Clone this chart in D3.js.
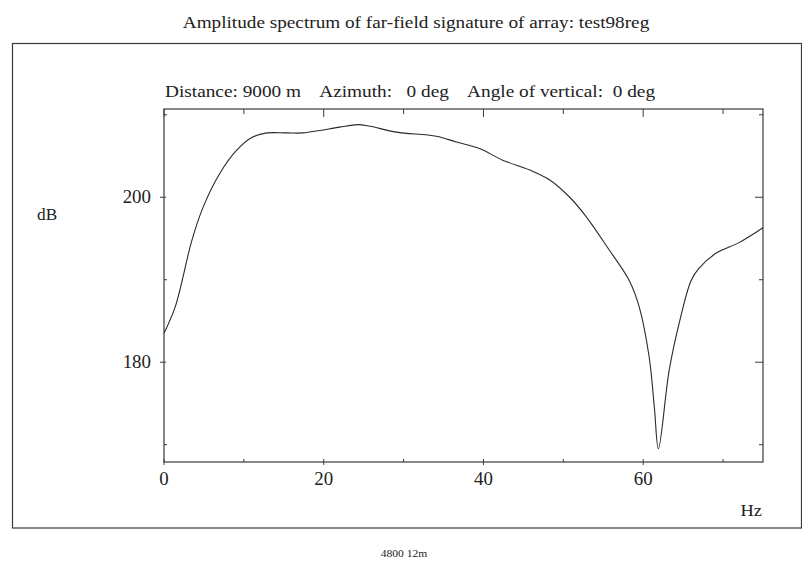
<!DOCTYPE html>
<html>
<head>
<meta charset="utf-8">
<script src="https://cdn.jsdelivr.net/npm/d3@7"></script>
<style>
  body { margin: 0; background: #fff; }
  svg text { font-family: "Liberation Serif", "DejaVu Serif", serif; fill: #222; }
</style>
</head>
<body>
<div class="chart"></div>
<script>
// spectrum: frequency (Hz) and level (dB)
const freqs = [0, 1.4, 3.5, 4.9, 7.0, 9.1, 11.1, 12.9, 15.4, 17.4, 19.5, 22, 24.3, 25.8,
  29.1, 34.1, 36.6, 39.5, 42.4, 45.8, 48.3, 50.8, 52.9, 55.75, 58.25, 59.5, 60.75, 61.4,
  61.9, 63.25, 64.5, 66, 67, 69.1, 72, 75];
const levels = [183.5, 186.7, 194.8, 198.8, 202.9, 205.7, 207.3, 207.8, 207.8, 207.8, 208.1,
  208.5, 208.8, 208.6, 207.9, 207.4, 206.7, 205.9, 204.5, 203.3, 202.1, 200, 197.6, 193.6,
  189.9, 186.7, 180.6, 174.5, 169.5, 179.0, 184.7, 189.9, 191.4, 193.2, 194.5, 196.3];

const xMajor = [0, 20, 40, 60];
const xMinor = [10, 30, 50, 70];
const yMajor = [180, 200];
const yMinor = [170, 190, 210];

const width = 802, height = 562;
const svg = d3.select('.chart').append('svg')
  .attr('width', width)
  .attr('height', height);

const frameColor = '#3a3a3a';

// the scanned text is wider than the font, so glyphs get scaled sideways by k
function label(px, py, str, size, anchor, k) {
  return svg.append('text')
    .attr('transform', `translate(${px},${py}) scale(${k},1)`)
    .attr('text-anchor', anchor)
    .attr('xml:space', 'preserve')
    .style('white-space', 'pre')
    .style('font-size', size + 'px')
    .text(str);
}

// outer frame
svg.append('rect')
  .attr('x', 12.5).attr('y', 43.5)
  .attr('width', 789).attr('height', 484.5)
  .style('fill', 'none')
  .style('stroke', frameColor)
  .style('stroke-width', 1.2);

const pLeft = 164, pRight = 763, pTop = 109, pBottom = 462;
const x = d3.scaleLinear().domain([0, 75]).range([pLeft, pRight]);
const y = d3.scaleLinear().domain([167.9, 210.7]).range([pBottom, pTop]);

// plot box
svg.append('rect')
  .attr('x', pLeft).attr('y', pTop)
  .attr('width', pRight - pLeft).attr('height', pBottom - pTop)
  .style('fill', 'none')
  .style('stroke', frameColor)
  .style('stroke-width', 1.2);

const g = svg.append('g');
function tick(x1, y1, x2, y2) {
  g.append('line')
    .attr('x1', x1).attr('y1', y1).attr('x2', x2).attr('y2', y2)
    .style('stroke', frameColor)
    .style('stroke-width', 1);
}

// x ticks: bottom and top
xMajor.forEach(v => {
  tick(x(v), pBottom - 3, x(v), pBottom + 3);
  tick(x(v), pTop, x(v), pTop + 8);
});
xMinor.forEach(v => {
  tick(x(v), pBottom - 3, x(v), pBottom);
  tick(x(v), pTop, x(v), pTop + 5);
});
// y ticks: left and right
yMajor.forEach(v => {
  tick(pLeft - 4, y(v), pLeft + 2, y(v));
  tick(pRight - 8, y(v), pRight, y(v));
});
yMinor.forEach(v => {
  tick(pLeft, y(v), pLeft + 3, y(v));
  tick(pRight - 4, y(v), pRight, y(v));
});

// tick labels
xMajor.forEach(v => label(x(v), 485, String(v), 18, 'middle', 1.05));
yMajor.forEach(v => label(151, y(v) + 6, String(v), 18, 'end', 1.05));

// axis names
label(37, 220, 'dB', 16, 'start', 1.08);
label(762, 516, 'Hz', 16, 'end', 1.15);

// titles
label(416, 28, 'Amplitude spectrum of far-field signature of array: test98reg', 16.5, 'middle', 1.165);
label(165, 97, 'Distance: 9000 m    Azimuth:   0 deg    Angle of vertical:  0 deg', 16.5, 'start', 1.17);
label(404, 557, '4800 12m', 10.5, 'middle', 1.1);

// spectrum line
const pts = freqs.map((f, i) => [f, levels[i]]);
const line = d3.line()
  .x(d => x(d[0]))
  .y(d => y(d[1]))
  .curve(d3.curveCatmullRom.alpha(0.5));

svg.append('path')
  .datum(pts)
  .attr('d', line)
  .style('fill', 'none')
  .style('stroke', '#2a2a2a')
  .style('stroke-width', 1.1);
</script>
</body>
</html>
